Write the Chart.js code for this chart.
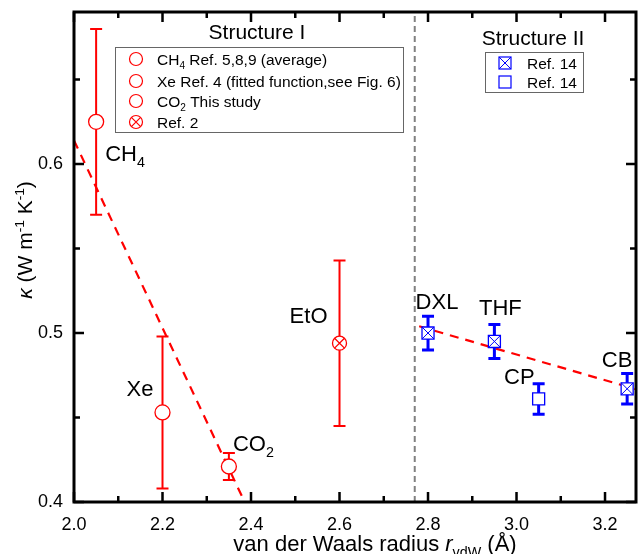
<!DOCTYPE html>
<html><head><meta charset="utf-8">
<script src="https://cdn.jsdelivr.net/npm/chart.js@4/dist/chart.umd.min.js"></script>
<style>html,body{margin:0;padding:0;background:#fff}#wrap{width:638px;height:554px}</style>
</head><body><div id="wrap"><canvas id="c" width="638" height="554"></canvas></div>
<script>
// ---- data ----
const xTicks = [2.0, 2.2, 2.4, 2.6, 2.8, 3.0, 3.2];
const yTicks = [0.4, 0.5, 0.6];
const xMinor = [2.1, 2.3, 2.5, 2.7, 2.9, 3.1];
const yMinor = [0.45, 0.55, 0.65];
// Structure I, open circles (CH4, Xe, CO2)
const s1Names = ['CH4', 'Xe', 'CO2'];
const s1X = [2.05, 2.2, 2.35];
const s1Y = [0.625, 0.453, 0.421];
const s1Lo = [0.570, 0.408, 0.413];
const s1Hi = [0.680, 0.498, 0.429];
// Structure I, Ref. 2 (EtO)
const etoX = [2.6];
const etoY = [0.494];
const etoLo = [0.445];
const etoHi = [0.543];
// Structure II, Ref. 14 crossed squares (DXL, THF, CB)
const s2Names = ['DXL', 'THF', 'CB'];
const s2X = [2.8, 2.95, 3.25];
const s2Y = [0.500, 0.495, 0.467];
const s2Lo = [0.490, 0.485, 0.458];
const s2Hi = [0.510, 0.505, 0.476];
// Structure II, Ref. 14 open square (CP)
const cpX = [3.05];
const cpY = [0.461];
const cpLo = [0.452];
const cpHi = [0.470];
// dashed fit lines
const fit1X = [2.0, 2.40];
const fit1Y = [0.614, 0.392];
const fit2X = [2.78, 3.28];
const fit2Y = [0.504, 0.466];
// structure divider
const divX = [2.77, 2.77];
const divY = [0.4, 0.69];

const RED = '#ff0000', BLUE = '#0000ff', FONT = '"Liberation Sans", Arial, sans-serif';
const pts = (xs, ys) => xs.map((x, i) => ({x, y: ys[i]}));

function rich(ctx, segs, x, y, size, align) {
  const parts = segs.map(s => {
    const fs = (s.sub || s.sup) ? size * 0.65 : size;
    const f = (s.it ? 'italic ' : '') + fs + 'px ' + FONT;
    ctx.font = f;
    return {s, f, w: ctx.measureText(s.t).width, fs};
  });
  const tot = parts.reduce((a, p) => a + p.w, 0);
  let cx = align === 'center' ? x - tot / 2 : align === 'right' ? x - tot : x;
  ctx.textAlign = 'left';
  ctx.textBaseline = 'alphabetic';
  for (const p of parts) {
    ctx.font = p.f;
    let dy = 0;
    if (p.s.sub) dy = size * 0.28;
    if (p.s.sup) dy = -size * 0.4;
    ctx.fillText(p.s.t, cx, y + dy);
    cx += p.w;
  }
}

function drawCircle(ctx, x, y, r, color, lw) {
  ctx.beginPath(); ctx.arc(x, y, r, 0, Math.PI * 2);
  ctx.fillStyle = '#fff'; ctx.fill();
  ctx.strokeStyle = color; ctx.lineWidth = lw; ctx.stroke();
}
function drawX(ctx, x, y, h, color, lw) {
  ctx.beginPath();
  ctx.moveTo(x - h, y - h); ctx.lineTo(x + h, y + h);
  ctx.moveTo(x - h, y + h); ctx.lineTo(x + h, y - h);
  ctx.strokeStyle = color; ctx.lineWidth = lw; ctx.stroke();
}
function drawSq(ctx, x, y, h, color, lw) {
  ctx.fillStyle = '#fff'; ctx.fillRect(x - h, y - h, 2 * h, 2 * h);
  ctx.strokeStyle = color; ctx.lineWidth = lw; ctx.strokeRect(x - h, y - h, 2 * h, 2 * h);
}

const errorBars = {
  id: 'errorBars',
  beforeDatasetsDraw(chart) {
    const {ctx, scales: {x, y}} = chart;
    const groups = [
      [s1X, s1Lo, s1Hi, RED, 2, 6],
      [etoX, etoLo, etoHi, RED, 2, 6],
      [s2X, s2Lo, s2Hi, BLUE, 3, 6],
      [cpX, cpLo, cpHi, BLUE, 3, 6]
    ];
    ctx.save();
    for (const [xs, lo, hi, col, lw, cap] of groups) {
      ctx.strokeStyle = col; ctx.lineWidth = lw;
      xs.forEach((xv, i) => {
        const px = x.getPixelForValue(xv);
        const p1 = y.getPixelForValue(lo[i]), p2 = y.getPixelForValue(hi[i]);
        ctx.beginPath();
        ctx.moveTo(px, p1); ctx.lineTo(px, p2);
        ctx.moveTo(px - cap, p1); ctx.lineTo(px + cap, p1);
        ctx.moveTo(px - cap, p2); ctx.lineTo(px + cap, p2);
        ctx.stroke();
      });
    }
    ctx.restore();
  }
};

const decor = {
  id: 'decor',
  afterDraw(chart) {
    const {ctx, chartArea: a, scales: {x, y}} = chart;
    ctx.save();
    // frame
    ctx.strokeStyle = '#000'; ctx.lineWidth = 3;
    ctx.strokeRect(a.left, a.top, a.right - a.left, a.bottom - a.top);
    // inward ticks
    ctx.lineWidth = 2.5;
    ctx.beginPath();
    const tk = (arr, len) => {
      arr.forEach(v => {
        const px = x.getPixelForValue(v);
        ctx.moveTo(px, a.bottom); ctx.lineTo(px, a.bottom - len);
        ctx.moveTo(px, a.top); ctx.lineTo(px, a.top + len);
      });
    };
    const tky = (arr, len) => {
      arr.forEach(v => {
        const py = y.getPixelForValue(v);
        ctx.moveTo(a.left, py); ctx.lineTo(a.left + len, py);
        ctx.moveTo(a.right, py); ctx.lineTo(a.right - len, py);
      });
    };
    tk(xTicks, 10); tk(xMinor, 6); tky(yTicks, 10); tky(yMinor, 6);
    ctx.stroke();

    ctx.fillStyle = '#000';
    // axis titles
    rich(ctx, [{t: 'van der Waals radius '}, {t: 'r', it: true}, {t: 'vdW', sub: true}, {t: ' (Å)'}], 375, 551, 22, 'center');
    ctx.save();
    ctx.translate(32, 240); ctx.rotate(-Math.PI / 2);
    rich(ctx, [{t: 'κ', it: true}, {t: ' (W m'}, {t: '-1', sup: true}, {t: ' K'}, {t: '-1', sup: true}, {t: ')'}], 0, 0, 21, 'center');
    ctx.restore();

    // structure headings
    ctx.font = '21px ' + FONT; ctx.textAlign = 'center'; ctx.textBaseline = 'alphabetic';
    ctx.fillText('Structure I', 257, 39);
    ctx.fillText('Structure II', 533, 45);

    // point labels
    const P = (xv, yv) => [x.getPixelForValue(xv), y.getPixelForValue(yv)];
    let q;
    q = P(s1X[0], s1Y[0]); rich(ctx, [{t: 'CH'}, {t: '4', sub: true}], q[0] + 9, q[1] + 39, 22, 'left');
    q = P(s1X[1], s1Y[1]); rich(ctx, [{t: 'Xe'}], q[0] - 9, q[1] - 16, 22, 'right');
    q = P(s1X[2], s1Y[2]); rich(ctx, [{t: 'CO'}, {t: '2', sub: true}], q[0] + 4, q[1] - 16, 22, 'left');
    q = P(etoX[0], etoY[0]); rich(ctx, [{t: 'EtO'}], q[0] - 12, q[1] - 20, 22, 'right');
    q = P(s2X[0], s2Y[0]); rich(ctx, [{t: 'DXL'}], q[0] + 9, q[1] - 24, 22, 'center');
    q = P(s2X[1], s2Y[1]); rich(ctx, [{t: 'THF'}], q[0] + 6, q[1] - 26, 22, 'center');
    q = P(cpX[0], cpY[0]); rich(ctx, [{t: 'CP'}], q[0] - 4, q[1] - 15, 22, 'right');
    q = P(s2X[2], s2Y[2]); rich(ctx, [{t: 'CB'}], q[0] - 10, q[1] - 22, 22, 'center');

    // legend 1
    ctx.strokeStyle = '#666'; ctx.lineWidth = 1;
    ctx.strokeRect(115.5, 47.5, 288, 85);
    const rows1 = [59, 81, 101, 122];
    const l1 = [
      [{t: 'CH'}, {t: '4', sub: true}, {t: ' Ref. 5,8,9 (average)'}],
      [{t: 'Xe Ref. 4 (fitted function,see Fig. 6)'}],
      [{t: 'CO'}, {t: '2', sub: true}, {t: ' This study'}],
      [{t: 'Ref. 2'}]
    ];
    rows1.forEach((ry, i) => {
      drawCircle(ctx, 136, ry, 6.5, RED, 1.2);
      if (i === 3) drawX(ctx, 136, ry, 4.6, RED, 1.2);
      ctx.fillStyle = '#000';
      rich(ctx, l1[i], 157, ry + 5.5, 15.5, 'left');
    });
    // legend 2
    ctx.strokeStyle = '#666'; ctx.lineWidth = 1;
    ctx.strokeRect(485.5, 52.5, 98, 40);
    [63, 82].forEach((ry, i) => {
      drawSq(ctx, 505, ry, 6, BLUE, 1.2);
      if (i === 0) drawX(ctx, 505, ry, 6, BLUE, 1);
      ctx.fillStyle = '#000';
      rich(ctx, [{t: 'Ref. 14'}], 527, ry + 5.5, 15.5, 'left');
    });
    ctx.restore();
  }
};

new Chart(document.getElementById('c'), {
  type: 'scatter',
  data: {
    datasets: [
      {data: pts(s1X, s1Y), pointStyle: 'circle', pointRadius: 7.5, borderColor: RED, backgroundColor: '#fff', borderWidth: 1.3, order: 1},
      {data: pts(etoX, etoY), pointStyle: 'crossRot', pointRadius: 7, borderColor: RED, borderWidth: 1.3, order: 0},
      {data: pts(etoX, etoY), pointStyle: 'circle', pointRadius: 7, borderColor: RED, backgroundColor: '#fff', borderWidth: 1.3, order: 1},
      {data: pts(s2X, s2Y), pointStyle: 'crossRot', pointRadius: 8.5, borderColor: BLUE, borderWidth: 1, order: 0},
      {data: pts(s2X, s2Y), pointStyle: 'rect', pointRadius: 8.5, borderColor: BLUE, backgroundColor: '#fff', borderWidth: 1.3, order: 1},
      {data: pts(cpX, cpY), pointStyle: 'rect', pointRadius: 8.5, borderColor: BLUE, backgroundColor: '#fff', borderWidth: 1.3, order: 1},
      {data: pts(fit1X, fit1Y), showLine: true, pointRadius: 0, borderColor: RED, borderWidth: 2.2, borderDash: [9, 7], order: 5},
      {data: pts(fit2X, fit2Y), showLine: true, pointRadius: 0, borderColor: RED, borderWidth: 2.2, borderDash: [9, 7], order: 5},
      {data: pts(divX, divY), showLine: true, pointRadius: 0, borderColor: '#808080', borderWidth: 2, borderDash: [6, 4], order: 6}
    ]
  },
  options: {
    responsive: false, animation: false, devicePixelRatio: 1,
    layout: {autoPadding: false, padding: {top: 12, right: 2, left: 0, bottom: 0}},
    plugins: {legend: {display: false}, tooltip: {enabled: false}},
    scales: {
      x: {
        type: 'linear', min: 2.0, max: 3.27,
        grid: {display: false, drawTicks: false}, border: {display: false},
        afterBuildTicks: s => { s.ticks = xTicks.map(v => ({value: v})); },
        afterFit: s => { s.height = 52; s.paddingLeft = 0; s.paddingRight = 0; },
        ticks: {padding: 12, color: '#000', font: {family: FONT, size: 18}, callback: v => v.toFixed(1), maxRotation: 0, autoSkip: false}
      },
      y: {
        type: 'linear', min: 0.4, max: 0.69,
        grid: {display: false, drawTicks: false}, border: {display: false},
        afterBuildTicks: s => { s.ticks = yTicks.map(v => ({value: v})); },
        afterFit: s => { s.width = 74; s.paddingTop = 0; s.paddingBottom = 0; },
        ticks: {padding: 11, color: '#000', font: {family: FONT, size: 18}, callback: v => v.toFixed(1), autoSkip: false}
      }
    }
  },
  plugins: [errorBars, decor]
});
</script></body></html>
